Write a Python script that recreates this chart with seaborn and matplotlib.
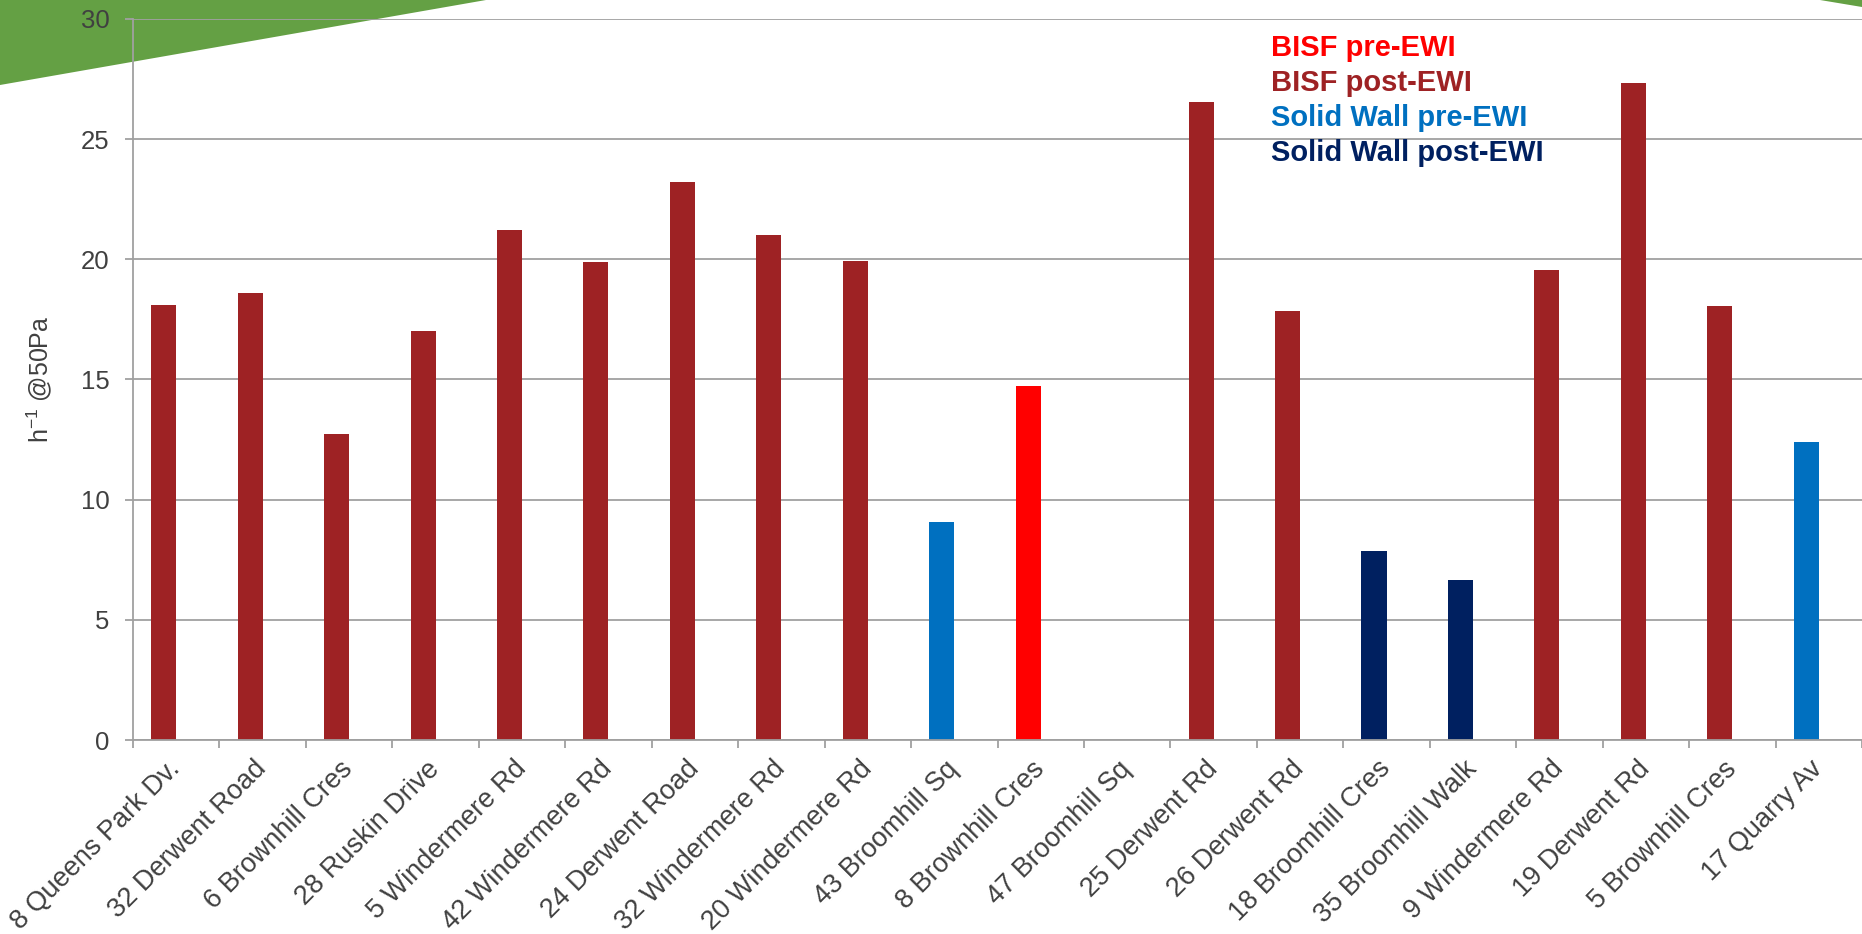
import numpy as np
import pandas as pd
import matplotlib
matplotlib.use("Agg")
import matplotlib.pyplot as plt
from matplotlib.patches import Polygon
import seaborn as sns

# ---------------- data ----------------
categories = ["8 Queens Park Dv.", "32 Derwent Road", "6 Brownhill Cres", "28 Ruskin Drive",
              "5 Windermere Rd", "42 Windermere Rd", "24 Derwent Road", "32 Windermere Rd",
              "20 Windermere Rd", "43 Broomhill Sq", "8 Brownhill Cres", "47 Broomhill Sq",
              "25 Derwent Rd", "26 Derwent Rd", "18 Broomhill Cres", "35 Broomhill Walk",
              "9 Windermere Rd", "19 Derwent Rd", "5 Brownhill Cres", "17 Quarry Av"]
values = [18.1, 18.6, 12.75, 17.0, 21.2, 19.9, 23.2, 21.0, 19.95, 9.05, 14.75, np.nan,
          26.55, 17.85, 7.85, 6.65, 19.55, 27.35, 18.05, 12.4]
wall_types = ["BISF post-EWI", "BISF post-EWI", "BISF post-EWI", "BISF post-EWI",
              "BISF post-EWI", "BISF post-EWI", "BISF post-EWI", "BISF post-EWI",
              "BISF post-EWI", "Solid Wall pre-EWI", "BISF pre-EWI", None,
              "BISF post-EWI", "BISF post-EWI", "Solid Wall post-EWI", "Solid Wall post-EWI",
              "BISF post-EWI", "BISF post-EWI", "BISF post-EWI", "Solid Wall pre-EWI"]
legend_labels = ["BISF pre-EWI", "BISF post-EWI", "Solid Wall pre-EWI", "Solid Wall post-EWI"]
legend_colors = ["#FF0000", "#9E2224", "#0070C0", "#002060"]
y_ticks = [0, 5, 10, 15, 20, 25, 30]
type_colors = dict(zip(legend_labels, legend_colors))

df = pd.DataFrame({"Property": categories, "ACH": values, "Series": "Measured"})

# ---------------- style ----------------
sns.set_theme(style="white")
plt.rcParams["font.family"] = ["Liberation Sans", "DejaVu Sans"]
plt.rcParams["mathtext.fontset"] = "custom"
plt.rcParams["mathtext.rm"] = "Liberation Sans"
plt.rcParams["mathtext.it"] = "Liberation Sans:italic"
plt.rcParams["mathtext.bf"] = "Liberation Sans:bold"

W, H = 1862, 934
fig = plt.figure(figsize=(W / 100, H / 100), dpi=100)
fig.patch.set_facecolor("white")
ax = fig.add_axes([133 / W, 194 / H, 1729 / W, 721 / H])
ax.set_facecolor("none")

sns.barplot(data=df, x="Property", y="ACH", hue="Series",
            hue_order=["Measured", "Second"], order=categories,
            palette={"Measured": "#9E2224", "Second": "#999999"},
            width=0.58, dodge=True, saturation=1, errorbar=None,
            legend=False, ax=ax)

for bar in ax.containers[0]:
    idx = int(np.floor(bar.get_x() + 0.5))
    t = wall_types[idx]
    if t is not None:
        bar.set_facecolor(type_colors[t])
    bar.set_edgecolor("none")

grid_c = "#A0A0A0"
text_c = "#404040"
ax.set_ylim(0, 30)
ax.set_xlim(-0.5, len(categories) - 0.5)
ax.set_yticks(y_ticks)
ax.yaxis.grid(True, color=grid_c, lw=1.3)
ax.set_axisbelow(True)
for s in ["top", "right"]:
    ax.spines[s].set_visible(False)
for s in ["left", "bottom"]:
    ax.spines[s].set_color(grid_c)
    ax.spines[s].set_linewidth(1.3)

ax.tick_params(axis="y", length=5.5, width=1.3, color=grid_c, pad=11.5,
               labelsize=18.5, labelcolor=text_c, left=True)
ax.set_xticks(range(len(categories)))
ax.set_xticklabels(categories, rotation=45, ha="right", va="center",
                   rotation_mode="anchor", fontsize=19.5, color=text_c)
ax.tick_params(axis="x", which="major", length=0, pad=18)
ax.set_xticks(np.arange(-0.5, len(categories), 1), minor=True)
ax.tick_params(axis="x", which="minor", length=6, width=1.3, color=grid_c, bottom=True)

ax.set_xlabel("")
ax.set_ylabel(r"h$^{\mathregular{-1}}$ @50Pa", fontsize=18, color=text_c)
ax.yaxis.set_label_coords((54 - 133) / 1729, 0.5)

# legend as coloured text
for i, (lab, col) in enumerate(zip(legend_labels, legend_colors)):
    fig.text(1271 / W, 1 - (47.5 + 35.3 * i) / H, lab, color=col, fontsize=21,
             fontweight="bold", ha="left", va="center")

# decorative green shapes (behind the chart)
green = "#64A044"
fig.patches.append(Polygon([(0, 1), (486 / W, 1), (0, 1 - 85 / H)], closed=True,
                           transform=fig.transFigure, facecolor=green,
                           edgecolor="none", zorder=-1))
fig.patches.append(Polygon([(1820 / W, 1), (1, 1), (1, 1 - 7 / H)], closed=True,
                           transform=fig.transFigure, facecolor=green,
                           edgecolor="none", zorder=-1))

fig.savefig("out.png", dpi=100, facecolor="white")
